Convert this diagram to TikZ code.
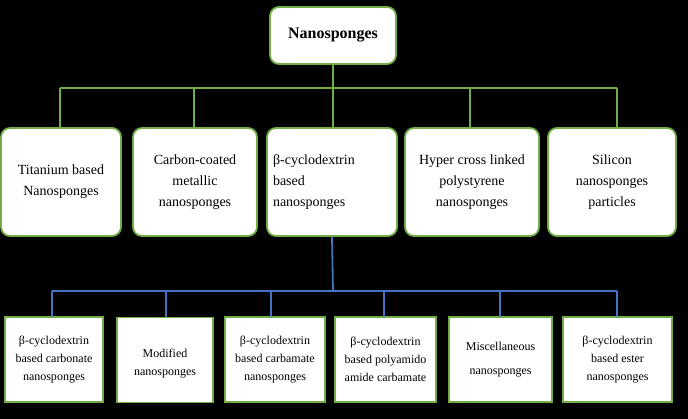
\documentclass[tikz,border=0pt]{standalone}
\usepackage{fontspec}
\setmainfont{Liberation Serif}
\definecolor{gr}{RGB}{112,173,71}
\definecolor{bl}{RGB}{68,114,196}
\begin{document}
\begin{tikzpicture}[x=1pt,y=-1pt,
 rbox/.style={draw=gr,line width=1.8pt,fill=white,rounded corners=9pt,align=center,font=\fontsize{14}{21}\selectfont,inner sep=0pt},
 sbox/.style={draw=gr,line width=1.3pt,fill=white,align=center,font=\fontsize{12}{18}\selectfont,inner sep=0pt},
 gl/.style={draw=gr,line width=1.8pt},
 bll/.style={draw=bl,line width=1.8pt}]
\fill[black] (0,0) rectangle (688,419);
\useasboundingbox (0,0) rectangle (688,419);
\node[rbox,minimum width=126pt,minimum height=57pt,font=\fontsize{16}{20}\selectfont\bfseries] (top) at (333,35.5) {Nanosponges};
\node[rbox,minimum width=120pt,minimum height=108pt] (a1) at (61,182) {Titanium based\\Nanosponges};
\node[rbox,minimum width=124pt,minimum height=108pt] (a2) at (195,182) {Carbon-coated\\metallic\\nanosponges};
\node[rbox,minimum width=130pt,minimum height=108pt,align=left,text width=118pt] (a3) at (332,182) {β-cyclodextrin\\based\\nanosponges};
\node[rbox,minimum width=134pt,minimum height=108pt] (a4) at (472,182) {Hyper cross linked\\polystyrene\\nanosponges};
\node[rbox,minimum width=128pt,minimum height=108pt] (a5) at (612,182) {Silicon\\nanosponges\\particles};
\coordinate (h) at (333,88);
\draw[gl] (top.south) -- (h);
\draw[gl] (60,88) -- (617,88);
\foreach \x/\n in {60/a1,194/a2,333/a3,470/a4,617/a5} \draw[gl] (\x,88) -- (\x,128);
\node[sbox,minimum width=98pt,minimum height=85pt] (b1) at (54,359.5) {β-cyclodextrin\\based carbonate\\nanosponges};
\node[sbox,minimum width=96pt,minimum height=85pt,anchor=north] (b2) at (165,317) {\rule{0pt}{16pt}Modified\\nanosponges};
\node[sbox,minimum width=100pt,minimum height=85pt] (b3) at (275,359.5) {β-cyclodextrin\\based carbamate\\nanosponges};
\node[sbox,minimum width=101pt,minimum height=85pt] (b4) at (385.5,359.5) {β-cyclodextrin\\based polyamido\\amide carbamate};
\node[sbox,minimum width=103pt,minimum height=85pt] (b5) at (500.5,359.5) {Miscellaneous\\[6pt]nanosponges};
\node[sbox,minimum width=109pt,minimum height=85pt] (b6) at (617.5,359.5) {β-cyclodextrin\\based ester\\nanosponges};
\draw[bll] (a3.south) -- (333,291);
\draw[bll] (52,291) -- (617,291);
\foreach \x in {52,166,271,384,500,617} \draw[bll] (\x,291) -- (\x,317);
\end{tikzpicture}
\end{document}
